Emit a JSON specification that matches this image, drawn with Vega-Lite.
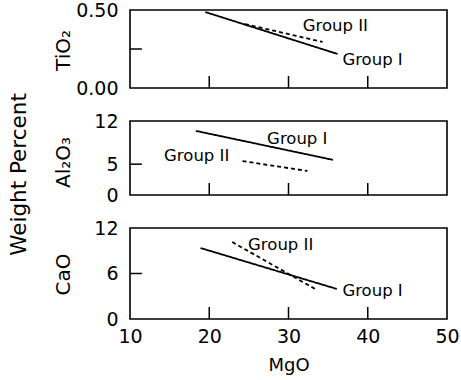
{
  "$schema": "https://vega.github.io/schema/vega-lite/v6.json",
  "padding": {"left": 8, "top": 0, "right": 0, "bottom": 5},
  "background": "white",
  "title": {"text": "Weight Percent", "orient": "left", "anchor": "middle", "fontSize": 21.5, "fontWeight": "normal", "font": "DejaVu Sans", "color": "black", "offset": 22, "dx": 13},
  "datasets": {
    "lines": [
      {"oxide": "TiO2", "group": "Group I", "MgO": 19.5, "value": 0.487},
      {"oxide": "TiO2", "group": "Group I", "MgO": 36.2, "value": 0.218},
      {"oxide": "TiO2", "group": "Group II", "MgO": 24.5, "value": 0.41},
      {"oxide": "TiO2", "group": "Group II", "MgO": 34.3, "value": 0.295},
      {"oxide": "Al2O3", "group": "Group I", "MgO": 18.3, "value": 10.4},
      {"oxide": "Al2O3", "group": "Group I", "MgO": 35.6, "value": 5.7},
      {"oxide": "Al2O3", "group": "Group II", "MgO": 24.2, "value": 5.5},
      {"oxide": "Al2O3", "group": "Group II", "MgO": 32.4, "value": 3.9},
      {"oxide": "CaO", "group": "Group I", "MgO": 18.9, "value": 9.36},
      {"oxide": "CaO", "group": "Group I", "MgO": 36.1, "value": 3.96},
      {"oxide": "CaO", "group": "Group II", "MgO": 22.9, "value": 10.15},
      {"oxide": "CaO", "group": "Group II", "MgO": 33.6, "value": 3.82}
    ],
    "labels": [
      {"oxide": "TiO2", "group": "Group II", "MgO": 31.8, "value": 0.40},
      {"oxide": "TiO2", "group": "Group I", "MgO": 36.8, "value": 0.18},
      {"oxide": "Al2O3", "group": "Group I", "MgO": 27.3, "value": 9.1},
      {"oxide": "Al2O3", "group": "Group II", "MgO": 14.3, "value": 6.3},
      {"oxide": "CaO", "group": "Group II", "MgO": 24.9, "value": 9.8},
      {"oxide": "CaO", "group": "Group I", "MgO": 36.8, "value": 3.7}
    ],
    "xticks": [{"MgO": 20}, {"MgO": 30}, {"MgO": 40}],
    "yticks": [
      {"oxide": "TiO2", "value": 0.25},
      {"oxide": "Al2O3", "value": 5},
      {"oxide": "CaO", "value": 6}
    ]
  },
  "spacing": 33,
  "bounds": "flush",
  "vconcat": [
    {
      "width": 317, "height": 78,
      "encoding": {
        "x": {"type": "quantitative", "scale": {"domain": [10, 50], "nice": false},
              "axis": {"values": [10, 20, 30, 40, 50], "labels": false, "title": null}},
        "y": {"type": "quantitative", "scale": {"domain": [0, 0.5], "nice": false},
              "axis": {"values": [0, 0.25, 0.5], "labelExpr": "datum.value == 0.25 ? '' : format(datum.value, '.2f')", "title": "TiO₂", "titleX": -67, "titleY": 40, "titleBaseline": "middle"}}
      },
      "layer": [
        {
          "data": {"name": "lines"},
          "transform": [{"filter": "datum.oxide == 'TiO2'"}],
          "mark": {"type": "line", "color": "black", "strokeWidth": 1.8},
          "encoding": {
            "x": {"field": "MgO", "type": "quantitative"},
            "y": {"field": "value", "type": "quantitative"},
            "strokeDash": {"field": "group", "type": "nominal", "scale": {"domain": ["Group I", "Group II"], "range": [[1, 0], [4, 3]]}, "legend": null},
            "detail": {"field": "group"}
          }
        },
        {
          "data": {"name": "labels"},
          "transform": [{"filter": "datum.oxide == 'TiO2'"}],
          "mark": {"type": "text", "align": "left", "baseline": "middle", "fontSize": 16.5, "font": "DejaVu Sans", "color": "black"},
          "encoding": {
            "x": {"field": "MgO", "type": "quantitative"},
            "y": {"field": "value", "type": "quantitative"},
            "text": {"field": "group"}
          }
        },
        {
          "data": {"name": "xticks"},
          "mark": {"type": "rule", "color": "black", "strokeWidth": 1.5},
          "encoding": {
            "x": {"field": "MgO", "type": "quantitative"},
            "y": {"datum": 0},
            "y2": {"datum": 0.077}
          }
        },
        {
          "data": {"name": "yticks"},
          "transform": [{"filter": "datum.oxide == 'TiO2'"}],
          "mark": {"type": "rule", "color": "black", "strokeWidth": 1.5},
          "encoding": {
            "y": {"field": "value", "type": "quantitative"},
            "x": {"datum": 10},
            "x2": {"datum": 11.5}
          }
        }
      ]
    },
    {
      "width": 317, "height": 74,
      "encoding": {
        "x": {"type": "quantitative", "scale": {"domain": [10, 50], "nice": false},
              "axis": {"values": [10, 20, 30, 40, 50], "labels": false, "title": null}},
        "y": {"type": "quantitative", "scale": {"domain": [0, 12], "nice": false},
              "axis": {"values": [0, 5, 12], "title": "Al₂O₃", "titleX": -67, "titleY": 41, "titleBaseline": "middle"}}
      },
      "layer": [
        {
          "data": {"name": "lines"},
          "transform": [{"filter": "datum.oxide == 'Al2O3'"}],
          "mark": {"type": "line", "color": "black", "strokeWidth": 1.8},
          "encoding": {
            "x": {"field": "MgO", "type": "quantitative"},
            "y": {"field": "value", "type": "quantitative"},
            "strokeDash": {"field": "group", "type": "nominal", "scale": {"domain": ["Group I", "Group II"], "range": [[1, 0], [4, 3]]}, "legend": null},
            "detail": {"field": "group"}
          }
        },
        {
          "data": {"name": "labels"},
          "transform": [{"filter": "datum.oxide == 'Al2O3'"}],
          "mark": {"type": "text", "align": "left", "baseline": "middle", "fontSize": 16.5, "font": "DejaVu Sans", "color": "black"},
          "encoding": {
            "x": {"field": "MgO", "type": "quantitative"},
            "y": {"field": "value", "type": "quantitative"},
            "text": {"field": "group"}
          }
        },
        {
          "data": {"name": "xticks"},
          "mark": {"type": "rule", "color": "black", "strokeWidth": 1.5},
          "encoding": {
            "x": {"field": "MgO", "type": "quantitative"},
            "y": {"datum": 0},
            "y2": {"datum": 1.95}
          }
        },
        {
          "data": {"name": "yticks"},
          "transform": [{"filter": "datum.oxide == 'Al2O3'"}],
          "mark": {"type": "rule", "color": "black", "strokeWidth": 1.5},
          "encoding": {
            "y": {"field": "value", "type": "quantitative"},
            "x": {"datum": 10},
            "x2": {"datum": 11.5}
          }
        }
      ]
    },
    {
      "width": 317, "height": 91,
      "encoding": {
        "x": {"type": "quantitative", "scale": {"domain": [10, 50], "nice": false},
              "axis": {"values": [10, 20, 30, 40, 50], "title": "MgO"}},
        "y": {"type": "quantitative", "scale": {"domain": [0, 12], "nice": false},
              "axis": {"values": [0, 6, 12], "title": "CaO", "titleX": -67, "titleY": 46, "titleBaseline": "middle"}}
      },
      "layer": [
        {
          "data": {"name": "lines"},
          "transform": [{"filter": "datum.oxide == 'CaO'"}],
          "mark": {"type": "line", "color": "black", "strokeWidth": 1.8},
          "encoding": {
            "x": {"field": "MgO", "type": "quantitative"},
            "y": {"field": "value", "type": "quantitative"},
            "strokeDash": {"field": "group", "type": "nominal", "scale": {"domain": ["Group I", "Group II"], "range": [[1, 0], [4, 3]]}, "legend": null},
            "detail": {"field": "group"}
          }
        },
        {
          "data": {"name": "labels"},
          "transform": [{"filter": "datum.oxide == 'CaO'"}],
          "mark": {"type": "text", "align": "left", "baseline": "middle", "fontSize": 16.5, "font": "DejaVu Sans", "color": "black"},
          "encoding": {
            "x": {"field": "MgO", "type": "quantitative"},
            "y": {"field": "value", "type": "quantitative"},
            "text": {"field": "group"}
          }
        },
        {
          "data": {"name": "xticks"},
          "mark": {"type": "rule", "color": "black", "strokeWidth": 1.5},
          "encoding": {
            "x": {"field": "MgO", "type": "quantitative"},
            "y": {"datum": 0},
            "y2": {"datum": 1.58}
          }
        },
        {
          "data": {"name": "yticks"},
          "transform": [{"filter": "datum.oxide == 'CaO'"}],
          "mark": {"type": "rule", "color": "black", "strokeWidth": 1.5},
          "encoding": {
            "y": {"field": "value", "type": "quantitative"},
            "x": {"datum": 10},
            "x2": {"datum": 11.5}
          }
        }
      ]
    }
  ],
  "config": {
    "view": {"stroke": "black", "strokeWidth": 1.6},
    "axis": {
      "domain": false, "grid": false, "ticks": false,
      "labelFont": "DejaVu Sans", "labelFontSize": 19, "labelColor": "black", "labelPadding": 12,
      "titleFont": "DejaVu Sans", "titleFontSize": 20, "titleFontWeight": "normal", "titleColor": "black"
    },
    "axisX": {"labelFlush": false, "labelPadding": 8, "titlePadding": 10, "titleFontSize": 18}
  }
}
